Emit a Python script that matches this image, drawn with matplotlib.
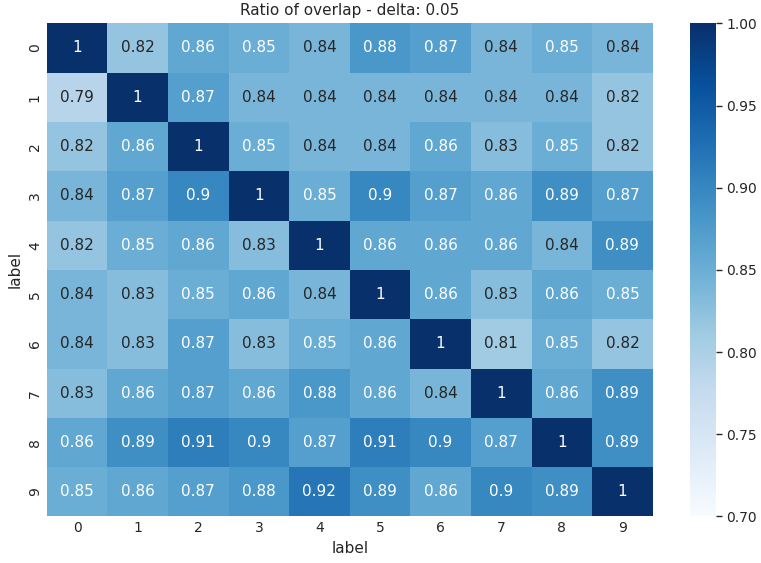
import numpy as np
import matplotlib
matplotlib.use("Agg")
import matplotlib.pyplot as plt
import seaborn as sns

labels = [str(i) for i in range(10)]
overlap = [
    [1.00, 0.82, 0.86, 0.85, 0.84, 0.88, 0.87, 0.84, 0.85, 0.84],
    [0.79, 1.00, 0.87, 0.84, 0.84, 0.84, 0.84, 0.84, 0.84, 0.82],
    [0.82, 0.86, 1.00, 0.85, 0.84, 0.84, 0.86, 0.83, 0.85, 0.82],
    [0.84, 0.87, 0.90, 1.00, 0.85, 0.90, 0.87, 0.86, 0.89, 0.87],
    [0.82, 0.85, 0.86, 0.83, 1.00, 0.86, 0.86, 0.86, 0.84, 0.89],
    [0.84, 0.83, 0.85, 0.86, 0.84, 1.00, 0.86, 0.83, 0.86, 0.85],
    [0.84, 0.83, 0.87, 0.83, 0.85, 0.86, 1.00, 0.81, 0.85, 0.82],
    [0.83, 0.86, 0.87, 0.86, 0.88, 0.86, 0.84, 1.00, 0.86, 0.89],
    [0.86, 0.89, 0.91, 0.90, 0.87, 0.91, 0.90, 0.87, 1.00, 0.89],
    [0.85, 0.86, 0.87, 0.88, 0.92, 0.89, 0.86, 0.90, 0.89, 1.00],
]

sns.set_style("white", {"ytick.right": True})
plt.rcParams['font.family'] = ['DejaVu Sans']
plt.rcParams['ytick.major.size'] = 4
plt.rcParams['ytick.major.width'] = 1
plt.rcParams['ytick.color'] = '#262626'

fig = plt.figure(figsize=(7.61, 5.63), dpi=100)
ax = fig.add_axes([0.0614, 0.0826, 0.7963, 0.876])
cax = fig.add_axes([0.9067, 0.0826, 0.0338, 0.876])

sns.heatmap(np.array(overlap), vmin=0.7, vmax=1.0, cmap="Blues", annot=True,
            annot_kws={"size": 11}, xticklabels=labels, yticklabels=labels,
            ax=ax, cbar_ax=cax)
ax.set_title("Ratio of overlap - delta: 0.05", fontsize=11)
ax.set_xlabel("label", fontsize=11)
ax.set_ylabel("label", fontsize=11)
ax.tick_params(labelsize=10, length=0)
plt.setp(ax.get_yticklabels(), rotation=90, va="center")
cax.tick_params(axis="y", which="major", right=True, labelright=True,
                labelsize=10, length=4, width=1, direction="out")

fig.savefig("out.png", dpi=100)
